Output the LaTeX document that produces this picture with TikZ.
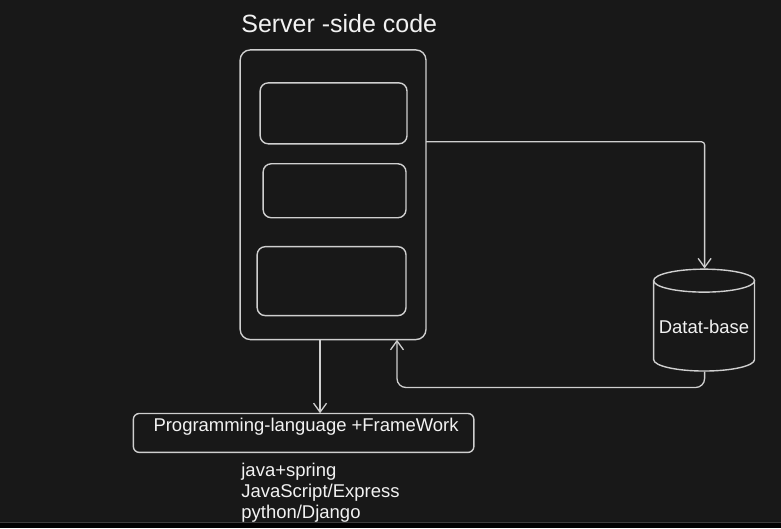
\documentclass[tikz,border=0pt]{standalone}
\usepackage{fontspec}
\setmainfont{Liberation Sans}
\usetikzlibrary{arrows.meta}
\definecolor{bg}{HTML}{181818}
\definecolor{ln}{HTML}{CFCFCF}
\definecolor{tx}{HTML}{F2F2F2}
\tikzset{
  box/.style={draw=ln,line width=1.4pt,rounded corners=#1},
  box/.default=8pt,
  conn/.style={draw=ln,line width=1.3pt,-{Straight Barb[length=9pt,width=13pt,line width=1.3pt]}},
  lbl/.style={text=tx,inner sep=0pt,anchor=base west,font=\fontsize{18.5}{21}\selectfont},
  hold/.style={inner sep=0pt,minimum width=#1,minimum height=0pt},
}
\begin{document}
\begin{tikzpicture}[x=1pt,y=-1pt]
\fill[bg] (0,0) rectangle (781,529);
\fill[black!90!bg] (0,523) rectangle (781,529);
\draw[white!16!bg,line width=1pt] (0,523) -- (781,523);
\useasboundingbox (0,0) rectangle (781,529);
% title
\node[lbl,font=\fontsize{25}{30}\selectfont] (title) at (241,33) {Server -side code};
% server box
\draw[box=10pt] (240,50) rectangle (426,340);
\node[inner sep=0pt,minimum width=186pt,minimum height=290pt] (srv) at (333,195) {};
\draw[box] (260,83) rectangle (407,144);
\draw[box] (263,164) rectangle (406,218);
\draw[box] (257,247) rectangle (406,316);
\node[inner sep=0pt] (in1) at (333,113) {};
\node[inner sep=0pt] (in2) at (334,191) {};
\node[inner sep=0pt] (in3) at (331,281) {};
% database cylinder
\node[inner sep=0pt,minimum width=101pt,minimum height=103pt] (db) at (704.5,320.5) {};
\draw[ln,line width=1.4pt] (654,281) -- (654,360) arc[start angle=180,end angle=360,x radius=50.5pt,y radius=11.5pt] -- (755,281);
\draw[ln,line width=1.4pt] (704.5,281) ellipse[x radius=50.5pt,y radius=11.5pt];
\node[lbl] (dbt) at (659,334) {Datat-base};
% programming box
\draw[box=6pt] (133,414) rectangle (474,453);
\node[inner sep=0pt,minimum width=341pt,minimum height=39pt] (prog) at (303.5,433.5) {};
\node[lbl] (progt) at (153,432) {Programming-language +FrameWork};
% list
\node[lbl,align=left,anchor=north west] (list) at (241,464) {java+spring\\JavaScript/Express\\python/Django};
% connectors
\coordinate (c1) at (705,142);
\draw[conn,rounded corners=3pt] (srv.east |- c1) -- (c1) -- (db.north -| c1);
\coordinate (c2) at (397,388);
\draw[conn,rounded corners=9pt] (db.south -| 705,0) -- (705,388) -- (c2) -- (srv.south -| c2);
\coordinate (c3) at (320,0);
\draw[conn] (srv.south -| c3) -- (prog.north -| c3);
\end{tikzpicture}
\end{document}
